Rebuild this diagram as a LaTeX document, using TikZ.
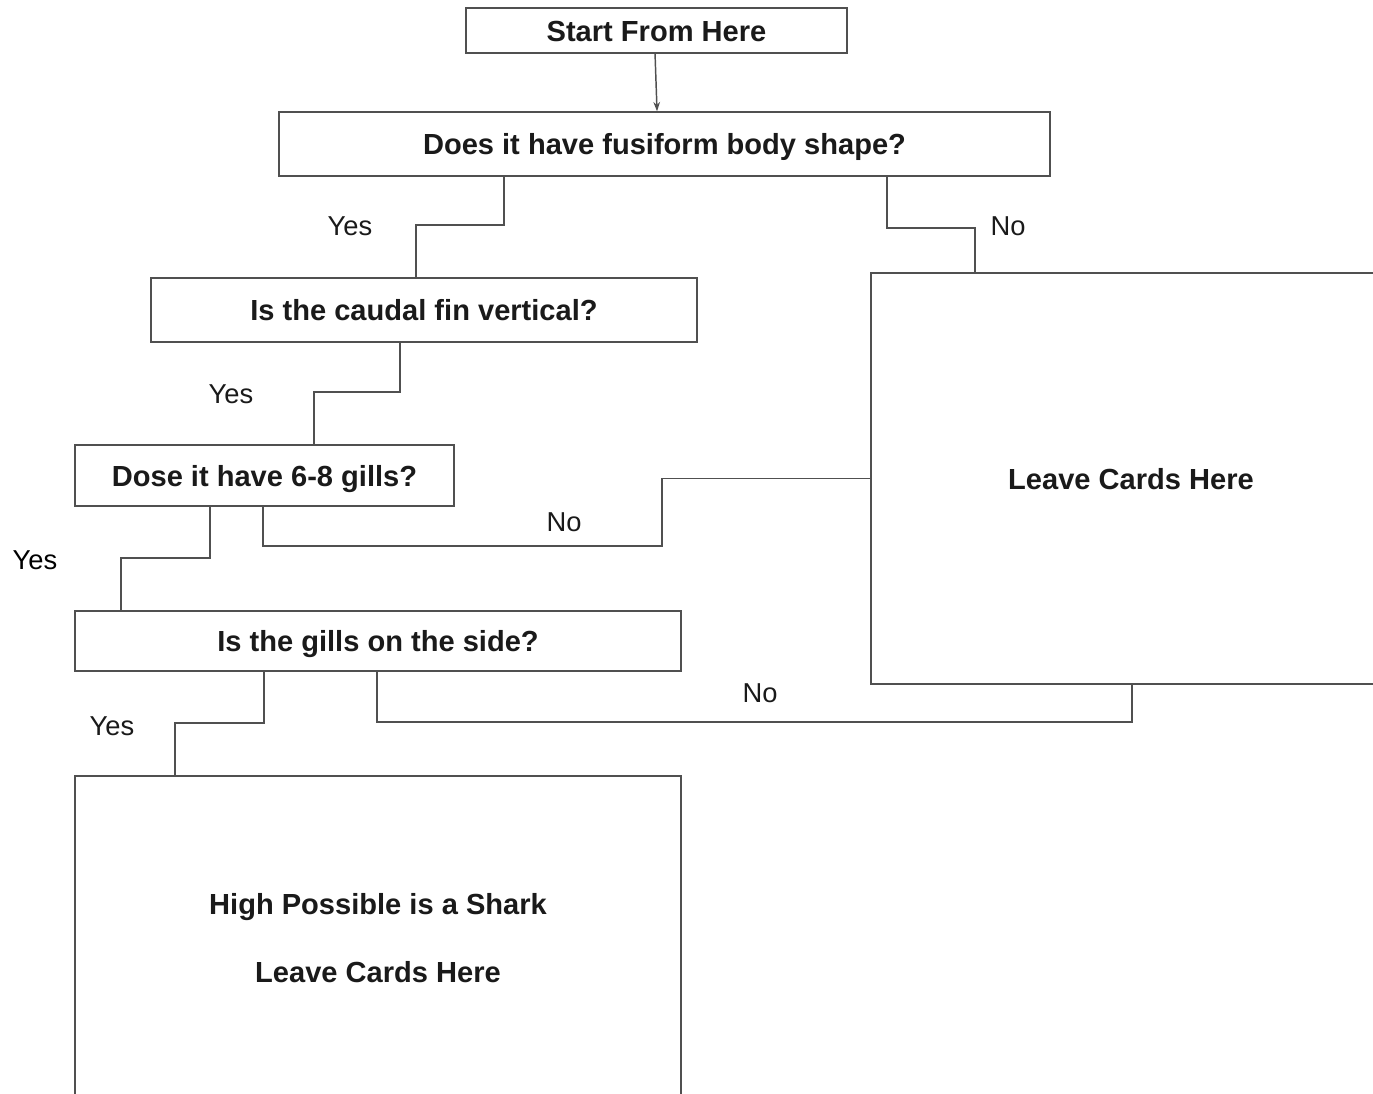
\documentclass[tikz,border=0pt]{standalone}
\usepackage{fontspec}
\setmainfont{Liberation Sans}
\usetikzlibrary{arrows.meta}
\definecolor{linec}{HTML}{505050}
\definecolor{txtc}{HTML}{1A1A1A}
\begin{document}
\begin{tikzpicture}[x=0.75pt,y=-0.75pt,
  box/.style={draw=linec,line width=1.1pt,rectangle,inner sep=0pt,
    font=\fontsize{21.8}{26}\selectfont\bfseries,text=txtc,align=center},
  qbox/.style={box,text height=15.8pt,text depth=0pt},
  conn/.style={draw=linec,line width=1.1pt},
  lbl/.style={font=\fontsize{20.5}{24}\selectfont,text=txtc,inner sep=0pt}]
\useasboundingbox (0,0) rectangle (1373,1094);
\clip (0,0) rectangle (1373,1094);
\fill[white] (0,0) rectangle (1373,1094);

\node[qbox,minimum width=285.75pt,minimum height=33.75pt] (start) at (656.5,30.5) {Start From Here};
\node[qbox,minimum width=578.25pt,minimum height=48pt] (q1) at (664.5,144) {Does it have fusiform body shape?};
\node[qbox,minimum width=409.5pt,minimum height=48pt] (q2) at (424,310) {Is the caudal fin vertical?};
\node[qbox,minimum width=284.25pt,minimum height=45.75pt] (q3) at (264.5,475.5) {Dose it have 6-8 gills?};
\node[qbox,minimum width=454.5pt,minimum height=45pt] (q4) at (378,641) {Is the gills on the side?};
\node[qbox,minimum width=390pt,minimum height=308.25pt] (leave) at (1131,478.5) {Leave Cards Here};
\node[box,minimum width=454.5pt,minimum height=243pt] (shark) at (378,938) {High Possible is a Shark\\[25pt]Leave Cards Here};

% start -> q1
\draw[conn,-{Stealth[length=7pt,width=5pt]}] ([xshift=-1.1pt]start.south) -- ([xshift=-5.6pt]q1.north);

% q1 yes -> q2
\coordinate (a1) at (504,225);
\coordinate (a2) at (416,225);
\draw[conn] (q1.south -| a1) -- (a1) -- (a2) -- (q2.north -| a2);
% q1 no -> leave
\coordinate (b1) at (887,228);
\coordinate (b2) at (975,228);
\draw[conn] (q1.south -| b1) -- (b1) -- (b2) -- (leave.north -| b2);
% q2 yes -> q3
\coordinate (c1) at (400,392);
\coordinate (c2) at (314,392);
\draw[conn] (q2.south -| c1) -- (c1) -- (c2) -- (q3.north -| c2);
% q3 yes -> q4
\coordinate (d1) at (210,558);
\coordinate (d2) at (121,558);
\draw[conn] (q3.south -| d1) -- (d1) -- (d2) -- (q4.north -| d2);
% q3 no -> leave
\coordinate (e1) at (263,546);
\coordinate (e2) at (662,546);
\coordinate (e3) at (662,478.5);
\draw[conn] (q3.south -| e1) -- (e1) -- (e2) -- (e3) -- (leave.west);
% q4 yes -> shark
\coordinate (f1) at (264,723);
\coordinate (f2) at (175,723);
\draw[conn] (q4.south -| f1) -- (f1) -- (f2) -- (shark.north -| f2);
% q4 no -> leave
\coordinate (g1) at (377,722);
\coordinate (g2) at (1132,722);
\draw[conn] (q4.south -| g1) -- (g1) -- (g2) -- (leave.south -| g2);

\node[lbl] (l1) at (350,226) {Yes};
\node[lbl] (l2) at (1008,226) {No};
\node[lbl] (l3) at (231,394) {Yes};
\node[lbl] (l4) at (564,522) {No};
\node[lbl,text=black] (l5) at (35,560) {Yes};
\node[lbl] (l6) at (112,726) {Yes};
\node[lbl] (l7) at (760,693) {No};
\end{tikzpicture}
\end{document}
